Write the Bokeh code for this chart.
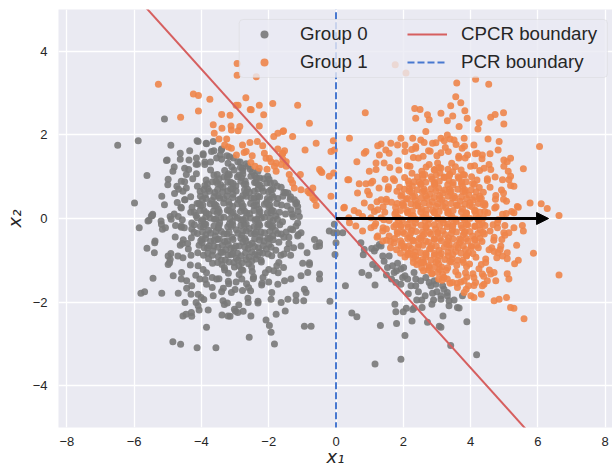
from bokeh.plotting import figure
from bokeh.models import (Range1d, FixedTicker, Legend, LegendItem, Arrow, NormalHead,
                          BoxAnnotation)
from bokeh.embed import file_html
from bokeh.resources import INLINE

# ---------------- data ----------------
x_ticks = [-8, -6, -4, -2, 0, 2, 4, 6, 8]
x_tick_labels = ["−8", "−6", "−4", "−2", "0", "2", "4", "6", "8"]
y_ticks = [-4, -2, 0, 2, 4]
y_tick_labels = ["−4", "−2", "0", "2", "4"]

cpcr_slope = -0.893      # CPCR boundary, a line through the origin
pcr_x = 0.0              # PCR boundary, vertical
arrow_end = (6.32, 0.0)  # projection direction drawn from the origin

# Group 0: dense part of the left cluster
group0_core = [
    (-3.31, -1.23), (-3.20, -1.31), (-2.88, -1.34), (-2.77, -1.24), (-2.49, -1.27),
    (-3.67, -1.07), (-3.39, -1.10), (-3.32, -1.18), (-3.04, -1.05), (-2.89, -1.13), (-2.60, -1.08), (-2.51, -1.16), (-2.22, -1.04),
    (-3.94, -0.88), (-3.79, -0.96), (-3.50, -0.91), (-3.41, -0.99), (-3.12, -0.87), (-2.96, -0.95), (-2.67, -0.98), (-2.58, -0.92),
    (-2.33, -0.88), (-2.23, -1.00), (-1.91, -0.89),
    (-4.11, -0.82), (-3.82, -0.70), (-3.66, -0.78), (-3.37, -0.81), (-3.28, -0.75), (-3.03, -0.71), (-2.93, -0.83), (-2.61, -0.72),
    (-2.50, -0.80), (-2.18, -0.83), (-2.07, -0.73), (-1.79, -0.76),
    (-4.07, -0.64), (-3.98, -0.58), (-3.73, -0.54), (-3.63, -0.66), (-3.31, -0.55), (-3.20, -0.63), (-2.88, -0.66), (-2.77, -0.56),
    (-2.49, -0.59), (-2.42, -0.67), (-2.14, -0.54), (-1.99, -0.62), (-1.70, -0.57),
    (-4.30, -0.46), (-3.98, -0.49), (-3.87, -0.39), (-3.59, -0.42), (-3.52, -0.50), (-3.24, -0.37), (-3.09, -0.45), (-2.80, -0.40),
    (-2.71, -0.48), (-2.42, -0.36), (-2.26, -0.44), (-1.97, -0.47), (-1.88, -0.41), (-1.63, -0.37),
    (-4.29, -0.25), (-4.22, -0.33), (-3.94, -0.20), (-3.79, -0.28), (-3.50, -0.23), (-3.41, -0.31), (-3.12, -0.19), (-2.96, -0.27),
    (-2.67, -0.30), (-2.58, -0.24), (-2.33, -0.20), (-2.23, -0.32), (-1.91, -0.21), (-1.80, -0.29), (-1.48, -0.32),
    (-4.29, -0.11), (-4.00, -0.06), (-3.91, -0.14), (-3.62, -0.02), (-3.46, -0.10), (-3.17, -0.13), (-3.08, -0.07), (-2.83, -0.03),
    (-2.73, -0.15), (-2.41, -0.04), (-2.30, -0.12), (-1.98, -0.15), (-1.87, -0.05), (-1.59, -0.08),
    (-4.32, 0.15), (-4.16, 0.07), (-3.87, 0.04), (-3.78, 0.10), (-3.53, 0.14), (-3.43, 0.02), (-3.11, 0.13), (-3.00, 0.05),
    (-2.68, 0.02), (-2.57, 0.12), (-2.29, 0.09), (-2.22, 0.01), (-1.94, 0.14), (-1.79, 0.06), (-1.50, 0.11),
    (-4.28, 0.27), (-4.03, 0.31), (-3.93, 0.19), (-3.61, 0.30), (-3.50, 0.22), (-3.18, 0.19), (-3.07, 0.29), (-2.79, 0.26),
    (-2.72, 0.18), (-2.44, 0.31), (-2.29, 0.23), (-2.00, 0.28), (-1.91, 0.20), (-1.62, 0.32),
    (-4.08, 0.36), (-3.97, 0.46), (-3.69, 0.43), (-3.62, 0.35), (-3.34, 0.48), (-3.19, 0.40), (-2.90, 0.45), (-2.81, 0.37),
    (-2.52, 0.49), (-2.36, 0.41), (-2.07, 0.38), (-1.98, 0.44), (-1.73, 0.48),
    (-4.32, 0.52), (-4.04, 0.65), (-3.89, 0.57), (-3.60, 0.62), (-3.51, 0.54), (-3.22, 0.66), (-3.06, 0.58), (-2.77, 0.55),
    (-2.68, 0.61), (-2.43, 0.65), (-2.33, 0.53), (-2.01, 0.64), (-1.90, 0.56), (-1.58, 0.53),
    (-4.12, 0.77), (-3.90, 0.79), (-3.81, 0.71), (-3.52, 0.83), (-3.36, 0.75), (-3.07, 0.72), (-2.98, 0.78), (-2.73, 0.82),
    (-2.63, 0.70), (-2.31, 0.81), (-2.20, 0.73), (-1.88, 0.70),
    (-3.86, 0.92), (-3.57, 0.89), (-3.48, 0.95), (-3.23, 0.99), (-3.13, 0.87), (-2.81, 0.98), (-2.70, 0.90), (-2.38, 0.87),
    (-2.27, 0.97), (-1.99, 0.94),
    (-3.73, 1.16), (-3.63, 1.04), (-3.31, 1.15), (-3.20, 1.07), (-2.88, 1.04), (-2.77, 1.14), (-2.49, 1.11), (-2.42, 1.03),
    (-3.21, 1.32), (-3.10, 1.24), (-2.78, 1.21), (-2.67, 1.31),
]

# Group 0: the most crowded middle of the left cluster
group0_center = [
    (-3.02, -1.16), (-2.81, -1.22),
    (-3.52, -1.05), (-3.29, -0.99), (-3.18, -1.04), (-2.91, -1.00), (-2.79, -1.06), (-2.50, -1.01), (-2.38, -0.97),
    (-3.81, -0.83), (-3.68, -0.88), (-3.42, -0.81), (-3.21, -0.87), (-3.07, -0.84), (-2.82, -0.89), (-2.69, -0.82), (-2.41, -0.86),
    (-2.27, -0.80), (-2.02, -0.85),
    (-3.92, -0.70), (-3.77, -0.65), (-3.51, -0.69), (-3.38, -0.64), (-3.12, -0.71), (-2.98, -0.66), (-2.71, -0.68), (-2.58, -0.63),
    (-2.31, -0.70), (-2.17, -0.65), (-1.93, -0.69),
    (-4.02, -0.53), (-3.88, -0.48), (-3.62, -0.52), (-3.47, -0.49), (-3.23, -0.54), (-3.06, -0.50), (-2.83, -0.47), (-2.68, -0.53),
    (-2.42, -0.49), (-2.28, -0.52), (-2.03, -0.48), (-1.87, -0.51),
    (-4.12, -0.36), (-3.97, -0.32), (-3.73, -0.35), (-3.57, -0.31), (-3.33, -0.37), (-3.18, -0.33), (-2.92, -0.35), (-2.77, -0.30),
    (-2.53, -0.36), (-2.37, -0.32), (-2.12, -0.34), (-1.97, -0.31), (-1.73, -0.36),
    (-4.21, -0.15), (-4.03, -0.19), (-3.87, -0.14), (-3.63, -0.18), (-3.48, -0.16), (-3.22, -0.20), (-3.07, -0.15), (-2.83, -0.17),
    (-2.67, -0.13), (-2.43, -0.19), (-2.27, -0.16), (-2.03, -0.14), (-1.88, -0.18), (-1.67, -0.15),
    (-4.13, 0.02), (-3.96, -0.03), (-3.74, 0.01), (-3.57, -0.02), (-3.33, 0.03), (-3.16, -0.01), (-2.93, 0.02), (-2.76, -0.03),
    (-2.54, 0.01), (-2.36, -0.02), (-2.13, 0.03), (-1.96, 0.00), (-1.74, -0.02),
    (-4.22, 0.15), (-4.04, 0.19), (-3.86, 0.14), (-3.64, 0.18), (-3.47, 0.16), (-3.23, 0.20), (-3.06, 0.15), (-2.84, 0.17),
    (-2.66, 0.13), (-2.44, 0.19), (-2.26, 0.16), (-2.04, 0.14), (-1.86, 0.18), (-1.68, 0.15),
    (-4.13, 0.36), (-3.96, 0.32), (-3.74, 0.35), (-3.56, 0.31), (-3.34, 0.37), (-3.17, 0.33), (-2.93, 0.35), (-2.76, 0.30),
    (-2.54, 0.36), (-2.36, 0.32), (-2.13, 0.34), (-1.96, 0.31), (-1.76, 0.36),
    (-4.03, 0.53), (-3.87, 0.48), (-3.63, 0.52), (-3.46, 0.49), (-3.24, 0.54), (-3.07, 0.50), (-2.84, 0.47), (-2.67, 0.53),
    (-2.43, 0.49), (-2.27, 0.52), (-2.04, 0.48), (-1.86, 0.51),
    (-3.93, 0.70), (-3.76, 0.65), (-3.52, 0.69), (-3.37, 0.64), (-3.13, 0.71), (-2.97, 0.66), (-2.72, 0.68), (-2.57, 0.63),
    (-2.32, 0.70), (-2.16, 0.65), (-1.94, 0.69),
    (-3.82, 0.83), (-3.67, 0.88), (-3.43, 0.81), (-3.22, 0.87), (-3.06, 0.84), (-2.83, 0.89), (-2.68, 0.82), (-2.42, 0.86),
    (-2.26, 0.80), (-2.06, 0.85),
    (-3.53, 1.05), (-3.33, 0.99), (-3.17, 1.04), (-2.93, 1.00), (-2.77, 1.06), (-2.53, 1.01), (-2.36, 0.97),
    (-3.03, 1.16), (-2.84, 1.22),
]

# Group 0: outer band of the left cluster
group0_ring = [
    (-1.28, 0.04), (-1.34, 0.21), (-1.36, 0.46), (-1.50, 0.62),
    (-3.24, 1.50), (-3.44, 1.52), (-3.73, 1.35), (-3.90, 1.29), (-4.15, 1.07), (-4.26, 0.95), (-4.45, 0.73), (-4.49, 0.45),
    (-4.61, 0.27), (-4.57, -0.03), (-4.60, -0.21), (-4.54, -0.51), (-4.39, -0.73), (-4.31, -0.88), (-4.10, -1.13), (-3.95, -1.22),
    (-3.68, -1.41), (-3.48, -1.44), (-3.19, -1.56), (-2.97, -1.52), (-2.66, -1.56), (-2.46, -1.44), (-2.17, -1.41), (-2.00, -1.22),
    (-1.76, -1.13), (-1.64, -0.88), (-1.45, -0.73), (-1.40, -0.45), (-1.29, -0.27),
    (-1.13, 0.17), (-1.17, 0.38), (-3.40, 1.66), (-3.63, 1.62), (-3.95, 1.52), (-4.12, 1.30), (-4.38, 1.17), (-4.50, 0.88),
    (-4.68, 0.70), (-4.72, 0.38), (-4.81, 0.11), (-4.77, -0.17), (-4.78, -0.44), (-4.63, -0.64), (-4.55, -0.94), (-4.33, -1.11),
    (-4.17, -1.36), (-3.89, -1.46), (-3.68, -1.65), (-3.35, -1.67), (-3.11, -1.77), (-2.78, -1.72), (-2.54, -1.73), (-2.21, -1.59),
    (-2.00, -1.52), (-1.72, -1.30), (-1.56, -1.17), (-1.35, -0.88), (-1.26, -0.70), (-1.12, -0.38), (-1.14, -0.11),
    (-2.15, 0.95), (-1.95, 0.85), (-1.75, 0.78), (-1.55, 0.62), (-1.35, 0.52), (-1.20, 0.35), (-2.55, 1.18), (-2.85, 1.35),
    (-3.05, 1.45),
]

# Group 0: sparser points around the left cluster
group0_halo = [
    (-6.49, 1.75), (-5.88, 1.86), (-5.10, 2.38), (-5.62, 1.03), (-5.99, 0.37), (-5.02, 1.40), (-4.91, 1.75), (-4.13, 1.86),
    (-3.85, 1.79), (-3.65, 1.84), (-4.99, 0.94), (-5.00, 0.81), (-4.81, 1.23), (-4.63, 1.42), (-4.37, 1.40), (-4.16, 1.30),
    (-4.73, 0.77), (-4.80, 0.60), (-5.18, 0.53), (-5.10, 0.33), (-5.45, 0.10),
    (-5.85, -0.22), (-5.56, -0.04), (-5.46, 0.07), (-5.38, -0.54), (-5.62, -0.71), (-5.40, -0.82), (-5.44, -1.43), (-5.80, -1.79),
    (-5.69, -1.75), (-5.18, -1.79), (-4.69, -1.79), (-4.85, -2.95), (-4.62, -3.01), (-4.13, -3.09), (-3.57, -3.09), (-3.85, -2.60),
    (-2.58, -2.84),
    (-4.49, -2.01), (-4.16, -2.01), (-4.31, -1.81), (-4.44, -1.67), (-4.10, -1.81), (-3.93, -1.94), (-3.65, -1.85), (-4.46, -2.29),
    (-4.29, -2.34), (-4.07, -2.19), (-3.80, -2.19), (-3.39, -2.31), (-3.15, -2.34), (-2.99, -2.22), (-2.76, -2.22), (-2.53, -2.33),
    (-2.89, -2.07), (-3.32, -2.06), (-2.61, -2.01),
    (-4.84, -1.37), (-4.59, -1.29), (-4.99, -1.10), (-4.93, -0.98), (-4.57, -0.60), (-4.41, -0.60), (-4.91, -0.84), (-4.44, -1.49),
    (-4.29, -1.61), (-3.85, -1.57), (-5.16, -0.26), (-5.07, -0.22), (-5.20, -0.06), (-4.51, -0.22), (-4.93, 0.05), (-4.69, 0.05),
    (-4.63, 1.56), (-5.04, 1.39), (-4.85, 1.13), (-4.60, 0.89), (-5.49, 0.06), (-5.59, -0.06), (-5.19, -0.14), (-4.90, -0.02),
    (-4.60, -0.18), (-5.39, -0.58), (-4.99, -0.90), (-4.95, -1.06), (-4.70, -0.90), (-4.60, -1.45), (-4.01, -1.89), (-4.10, -2.09),
    (-4.30, -2.25), (-4.55, -2.33), (-3.36, -1.97), (-3.23, -2.02), (-3.02, -2.17), (-3.21, -2.33), (-2.92, -2.25), (-2.62, -1.91),
    (-2.32, -2.02), (-1.63, -2.01), (-1.19, -1.97), (-0.94, -1.69), (-1.43, -1.93), (-1.73, -1.57), (-1.53, -1.49), (-1.34, -1.45),
    (-1.04, -1.37), (-0.84, -1.29), (-0.79, -1.06), (-0.49, -0.58), (-0.64, -0.50), (-1.04, -0.66), (-0.86, -0.82), (-1.09, 0.05),
    (-1.19, -0.18), (-1.04, -0.34), (-1.14, -0.42),
    (-4.10, 1.84), (-3.86, 1.80), (-3.41, 1.64), (-3.17, 1.48), (-2.92, 1.36), (-2.62, 1.25), (-2.32, 1.13), (-2.03, 1.01),
    (-1.83, 0.85), (-1.63, 0.75), (-1.43, 0.61), (-1.24, 0.45), (-1.14, 0.29),
    (-4.35, 1.62), (-3.95, 1.55), (-3.70, 1.60), (-3.55, 1.45), (-3.90, 1.35), (-4.15, 1.45), (-3.40, 1.42), (-4.50, 1.20),
    (-4.45, 1.05), (-4.55, 0.65), (-4.50, 0.45), (-4.60, 0.25),
    (-3.55, -1.45), (-3.20, -1.50), (-2.80, -1.45), (-2.45, -1.40), (-2.10, -1.30), (-3.85, -1.30), (-3.00, -1.70), (-2.60, -1.65),
    (-2.20, -1.55), (-1.85, -1.25), (-3.40, -1.75), (-4.05, -1.45), (-1.70, -1.05), (-1.55, -0.85), (-1.40, -0.60), (-1.35, -0.25),
    (-1.30, 0.10), (-1.45, 0.30), (-1.55, -0.45),
]

# Group 0: points between the clusters
group0_mid = [
    (-0.18, -1.98), (0.28, -1.61), (0.47, -2.26), (0.62, -2.35), (-0.05, -0.14), (-0.07, -0.34), (-0.03, -0.86), (-0.20, -0.30),
    (-0.49, -0.66), (-0.59, -0.67), (-0.49, -1.33), (-0.49, -1.45), (-0.79, -1.10), (-0.99, -1.07), (-0.89, -1.77), (-0.96, -1.97),
    (-1.19, -1.83), (-1.51, -2.21), (-1.78, -2.29), (-1.91, -1.77), (-1.93, -1.93), (-2.08, -2.43), (-1.98, -2.56), (-1.93, -2.72),
    (-1.83, -3.00), (-0.94, -2.58), (-0.74, -2.58), (-2.32, -1.98),
    (0.03, -0.34), (0.00, -0.58), (0.20, -0.34), (0.81, -0.87), (0.74, -0.58), (0.84, -0.74),
]

# Group 0: points below the boundary inside the right cluster
group0_right = [
    (1.16, -3.48), (1.93, -3.37), (2.05, -2.80), (1.32, -2.56), (1.80, -2.51), (1.78, -2.23), (1.75, -2.05), (2.00, -2.23),
    (2.09, -2.15), (2.26, -2.45), (2.32, -2.14), (2.56, -2.13), (2.72, -2.48), (3.07, -2.58), (3.18, -2.33), (2.90, -1.95),
    (2.87, -1.79), (3.12, -1.85), (3.41, -3.04), (4.18, -3.26),
    (1.16, -1.59), (0.77, -1.29), (0.97, -1.36), (1.09, -1.10), (1.21, -1.19), (1.06, -0.72), (1.19, -0.70), (1.39, -0.90),
    (1.43, -1.02), (1.53, -1.17), (1.68, -1.13), (1.80, -1.25), (2.01, -1.17), (2.05, -1.37), (2.23, -1.61), (2.37, -1.61),
    (2.52, -1.49), (2.67, -1.41), (2.77, -1.53), (2.97, -1.57), (3.17, -1.61), (1.29, -0.62),
    (3.31, -1.85), (3.51, -1.95), (3.66, -2.14), (3.76, -1.85), (3.36, -2.09), (3.89, -2.47),
    (1.34, -0.66), (1.58, -0.90), (1.83, -1.07), (1.93, -1.21), (1.73, -1.29), (1.98, -1.41), (2.13, -1.45), (2.32, -1.29),
    (2.37, -1.45), (2.82, -1.61), (2.92, -1.49), (3.21, -1.69), (3.31, -1.77), (1.93, -1.57), (1.78, -1.53), (1.14, -0.78),
    (2.28, -2.18), (3.61, -2.13), (3.12, -2.60), (3.36, -1.97), (3.12, -1.93),
    (2.45, -1.75), (2.65, -1.85), (2.15, -1.80), (2.55, -1.95), (1.65, -1.45), (1.50, -1.35), (2.85, -2.05), (3.00, -1.75),
    (2.40, -1.95),
]

# Group 1: points above the boundary on the left and between the clusters
group1_left = [
    (-5.28, 3.21), (-4.24, 2.98), (-4.09, 2.94), (-3.75, 2.85), (-4.09, 2.57), (-4.62, 2.42), (-3.40, 2.49), (-3.15, 2.47),
    (-2.91, 2.71), (-2.68, 2.89), (-2.55, 2.61), (-3.65, 2.24), (-3.39, 2.16), (-3.12, 2.21), (-3.11, 2.12), (-2.86, 2.20),
    (-2.91, 2.10), (-3.62, 2.04), (-3.48, 1.90), (-3.25, 1.90), (-3.20, 1.71), (-3.11, 1.68), (-2.78, 1.76), (-2.56, 1.82),
    (-2.34, 1.84), (-2.96, 1.52), (-2.73, 1.58), (-2.49, 1.50), (-2.53, 1.34), (-2.41, 1.25),
    (-2.28, 2.21), (-3.31, 1.76), (-2.67, 1.60), (-2.28, 1.20), (-2.13, 1.56), (-2.08, 1.44), (-1.93, 1.36), (-1.83, 1.25),
    (-1.78, 1.13), (-1.63, 1.29), (-1.58, 1.56), (-1.48, 1.36), (-1.39, 1.05), (-1.34, 0.93), (-1.24, 0.73), (-1.04, 0.69),
    (-1.06, 1.05), (-0.79, 0.61), (-0.64, 0.45), (-0.59, 0.31), (-0.15, 0.53), (0.23, 0.25), (0.40, 1.92), (0.35, 0.93),
    (-0.15, 1.60), (-0.05, 1.64), (-0.45, 1.13), (-0.49, 1.17), (-0.79, 2.28), (-0.59, 1.80), (-0.92, 1.64), (-1.29, 1.96),
    (-1.58, 2.08), (-1.73, 2.04), (-1.85, 1.96), (-2.15, 2.48), (-1.88, 2.75), (-1.14, 2.71), (-2.28, 2.71), (-2.52, 2.60),
    (-2.97, 2.71),
    (-2.94, 3.71), (-2.94, 3.43), (-2.37, 3.39), (1.76, 3.68), (2.08, 3.48), (3.59, 3.24), (4.15, 3.33), (4.54, 3.21),
    (0.87, 2.53), (-0.08, 1.86), (-0.42, 1.10), (-0.69, 0.73), (-0.74, 0.61), (0.38, 0.93), (0.25, 0.27), (0.54, 0.19),
    (0.67, 0.14), (0.62, 1.36), (0.84, 1.56), (0.89, 1.60), (0.69, 0.83), (0.89, 0.83), (1.04, 0.85), (0.94, 0.65),
    (-1.56, 2.10), (-2.18, 1.74), (-1.73, 1.66), (-1.53, 1.62), (-1.60, 1.54), (-1.98, 1.44), (-1.78, 1.33), (-1.58, 1.42),
    (-2.05, 1.18), (-1.48, 1.25), (-1.29, 0.85), (-0.84, 0.65), (-0.69, 0.49), (-0.20, 1.01), (-0.07, 1.09),
    (1.09, 0.89), (0.38, 0.02), (1.04, 0.27), (1.34, 0.45), (1.19, 1.17), (1.34, 1.78),
    (0.40, -0.10), (0.59, -0.18), (0.79, -0.30), (1.04, -0.22), (1.24, -0.42), (1.39, -0.54),
]

# Group 1: dense part of the right cluster
group1_core = [
    (2.74, -1.23), (2.85, -1.31), (3.17, -1.34), (3.28, -1.24), (3.56, -1.27), (3.63, -1.35),
    (2.40, -1.10), (2.61, -1.05), (2.76, -1.13), (3.05, -1.08), (3.14, -1.16), (3.43, -1.04), (3.59, -1.12), (3.88, -1.15),
    (3.97, -1.09),
    (2.13, -0.87), (2.29, -0.95), (2.58, -0.98), (2.67, -0.92), (2.92, -0.88), (3.02, -1.00), (3.34, -0.89), (3.45, -0.97),
    (3.77, -1.00), (3.88, -0.90), (4.16, -0.93),
    (1.92, -0.83), (2.24, -0.72), (2.35, -0.80), (2.67, -0.83), (2.78, -0.73), (3.06, -0.76), (3.13, -0.84), (3.41, -0.71),
    (3.56, -0.79), (3.85, -0.74), (3.94, -0.82), (4.23, -0.70),
    (1.96, -0.59), (2.03, -0.67), (2.31, -0.54), (2.46, -0.62), (2.75, -0.57), (2.84, -0.65), (3.13, -0.53), (3.29, -0.61),
    (3.58, -0.64), (3.67, -0.58), (3.92, -0.54), (4.02, -0.66), (4.34, -0.55),
    (1.74, -0.48), (2.03, -0.36), (2.19, -0.44), (2.48, -0.47), (2.57, -0.41), (2.82, -0.37), (2.92, -0.49), (3.24, -0.38),
    (3.35, -0.46), (3.67, -0.49), (3.78, -0.39), (4.06, -0.42), (4.13, -0.50), (4.41, -0.37),
    (1.72, -0.20), (1.82, -0.32), (2.14, -0.21), (2.25, -0.29), (2.57, -0.32), (2.68, -0.22), (2.96, -0.25), (3.03, -0.33),
    (3.31, -0.20), (3.46, -0.28), (3.75, -0.23), (3.84, -0.31), (4.13, -0.19), (4.29, -0.27), (4.58, -0.30),
    (1.58, -0.05), (1.86, -0.08), (1.93, -0.16), (2.21, -0.03), (2.36, -0.11), (2.65, -0.06), (2.74, -0.14), (3.03, -0.02),
    (3.19, -0.10), (3.48, -0.13), (3.57, -0.07), (3.82, -0.03), (3.92, -0.15), (4.24, -0.04), (4.35, -0.12), (4.67, -0.15),
    (1.75, 0.11), (1.84, 0.03), (2.13, 0.15), (2.29, 0.07), (2.58, 0.04), (2.67, 0.10), (2.92, 0.14), (3.02, 0.02),
    (3.34, 0.13), (3.45, 0.05), (3.77, 0.02), (3.88, 0.12), (4.16, 0.09), (4.23, 0.01), (4.51, 0.14),
    (1.77, 0.27), (2.02, 0.31), (2.12, 0.19), (2.44, 0.30), (2.55, 0.22), (2.87, 0.19), (2.98, 0.29), (3.26, 0.26),
    (3.33, 0.18), (3.61, 0.31), (3.76, 0.23), (4.05, 0.28), (4.14, 0.20), (4.43, 0.32),
    (1.65, 0.39), (1.97, 0.36), (2.08, 0.46), (2.36, 0.43), (2.43, 0.35), (2.71, 0.48), (2.86, 0.40), (3.15, 0.45),
    (3.24, 0.37), (3.53, 0.49), (3.69, 0.41), (3.98, 0.38), (4.07, 0.44), (4.32, 0.48), (4.42, 0.36),
    (1.81, 0.65), (1.96, 0.57), (2.25, 0.62), (2.34, 0.54), (2.63, 0.66), (2.79, 0.58), (3.08, 0.55), (3.17, 0.61),
    (3.42, 0.65), (3.52, 0.53), (3.84, 0.64), (3.95, 0.56), (4.27, 0.53), (4.38, 0.63),
    (1.89, 0.75), (2.18, 0.72), (2.27, 0.78), (2.52, 0.82), (2.62, 0.70), (2.94, 0.81), (3.05, 0.73), (3.37, 0.70),
    (3.48, 0.80), (3.76, 0.77), (3.83, 0.69), (4.11, 0.82), (4.26, 0.74),
    (2.04, 0.98), (2.15, 0.90), (2.47, 0.87), (2.58, 0.97), (2.86, 0.94), (2.93, 0.86), (3.21, 0.99), (3.36, 0.91),
    (3.65, 0.96), (3.74, 0.88), (4.03, 1.00), (4.19, 0.92),
    (2.26, 1.08), (2.55, 1.13), (2.64, 1.05), (2.93, 1.17), (3.09, 1.09), (3.38, 1.06), (3.47, 1.12), (3.72, 1.16),
    (3.82, 1.04),
    (2.68, 1.23), (2.77, 1.29), (3.02, 1.33), (3.12, 1.21), (3.44, 1.32), (3.55, 1.24),
]

# Group 1: the most crowded middle of the right cluster
group1_center = [
    (2.93, -1.16), (3.08, -1.22), (3.32, -1.18),
    (2.43, -0.99), (2.58, -1.05), (2.82, -1.00), (2.97, -1.04), (3.23, -0.98), (3.38, -1.03), (3.62, -1.00), (3.79, -1.05),
    (2.17, -0.83), (2.31, -0.88), (2.52, -0.82), (2.68, -0.87), (2.93, -0.84), (3.08, -0.89), (3.33, -0.81), (3.47, -0.86),
    (3.72, -0.83), (3.88, -0.88), (4.07, -0.84),
    (2.02, -0.70), (2.17, -0.65), (2.43, -0.69), (2.58, -0.64), (2.82, -0.71), (2.98, -0.66), (3.22, -0.68), (3.37, -0.63),
    (3.63, -0.70), (3.78, -0.65), (4.03, -0.69), (4.18, -0.64),
    (1.92, -0.53), (2.13, -0.48), (2.28, -0.52), (2.52, -0.49), (2.67, -0.54), (2.93, -0.50), (3.08, -0.47), (3.32, -0.53),
    (3.48, -0.49), (3.72, -0.52), (3.87, -0.48), (4.12, -0.51), (4.28, -0.47),
    (1.83, -0.36), (1.98, -0.32), (2.22, -0.35), (2.38, -0.31), (2.63, -0.37), (2.78, -0.33), (3.02, -0.35), (3.17, -0.30),
    (3.43, -0.36), (3.58, -0.32), (3.82, -0.34), (3.98, -0.31), (4.22, -0.36), (4.37, -0.33),
    (1.78, -0.15), (1.93, -0.19), (2.12, -0.14), (2.28, -0.18), (2.53, -0.16), (2.67, -0.20), (2.92, -0.15), (3.08, -0.17),
    (3.33, -0.13), (3.47, -0.19), (3.72, -0.16), (3.88, -0.14), (4.13, -0.18), (4.27, -0.15), (4.43, -0.17),
    (1.82, 0.02), (1.97, -0.03), (2.23, 0.01), (2.38, -0.02), (2.62, 0.03), (2.78, -0.01), (3.03, 0.02), (3.18, -0.03),
    (3.42, 0.01), (3.57, -0.02), (3.83, 0.03), (3.98, 0.00), (4.22, -0.02), (4.38, 0.02),
    (1.78, 0.15), (1.92, 0.19), (2.13, 0.14), (2.27, 0.18), (2.52, 0.16), (2.68, 0.20), (2.93, 0.15), (3.07, 0.17),
    (3.32, 0.13), (3.48, 0.19), (3.73, 0.16), (3.87, 0.14), (4.12, 0.18), (4.28, 0.15), (4.42, 0.17),
    (1.82, 0.36), (1.98, 0.32), (2.23, 0.35), (2.37, 0.31), (2.62, 0.37), (2.78, 0.33), (3.03, 0.35), (3.17, 0.30),
    (3.42, 0.36), (3.58, 0.32), (3.83, 0.34), (3.97, 0.31), (4.23, 0.36), (4.38, 0.33),
    (1.93, 0.53), (2.12, 0.48), (2.28, 0.52), (2.53, 0.49), (2.67, 0.54), (2.92, 0.50), (3.08, 0.47), (3.33, 0.53),
    (3.47, 0.49), (3.73, 0.52), (3.88, 0.48), (4.13, 0.51), (4.27, 0.47),
    (2.03, 0.70), (2.18, 0.65), (2.42, 0.69), (2.57, 0.64), (2.83, 0.71), (2.97, 0.66), (3.23, 0.68), (3.38, 0.63),
    (3.62, 0.70), (3.77, 0.65), (4.02, 0.69), (4.17, 0.64),
    (2.17, 0.83), (2.32, 0.88), (2.53, 0.82), (2.67, 0.87), (2.92, 0.84), (3.07, 0.89), (3.32, 0.81), (3.48, 0.86),
    (3.73, 0.83), (3.87, 0.88), (4.06, 0.84),
    (2.42, 0.99), (2.57, 1.05), (2.83, 1.00), (2.98, 1.04), (3.22, 0.98), (3.37, 1.03), (3.63, 1.00), (3.78, 1.05),
    (2.92, 1.16), (3.07, 1.22), (3.33, 1.18),
]

# Group 1: outer band of the right cluster
group1_ring = [
    (4.82, -0.03), (4.76, 0.28), (4.74, 0.46), (4.58, 0.75), (4.50, 0.91), (4.27, 1.15), (4.12, 1.26), (3.84, 1.45),
    (3.65, 1.49), (3.34, 1.60), (3.12, 1.57), (2.80, 1.61), (2.59, 1.49), (2.30, 1.46), (2.12, 1.26), (1.87, 1.16),
    (1.74, 0.91), (1.56, 0.76), (1.50, 0.46), (1.40, 0.28), (1.42, -0.03), (1.40, -0.22), (1.50, -0.52), (1.62, -0.70),
    (3.39, -1.55), (3.60, -1.55), (3.89, -1.40), (4.07, -1.32), (4.32, -1.10), (4.45, -0.97), (4.63, -0.70), (4.69, -0.52),
    (4.80, -0.22),
    (5.06, 0.12), (4.98, 0.46), (4.92, 0.68), (4.73, 0.99), (4.60, 1.17), (4.34, 1.43), (4.14, 1.55), (3.82, 1.73),
    (3.57, 1.77), (3.22, 1.86), (2.97, 1.81), (2.62, 1.82), (2.37, 1.68), (2.05, 1.60), (1.85, 1.38), (1.60, 1.22),
    (1.46, 0.94), (1.28, 0.73), (1.22, 0.40), (1.14, 0.17), (1.18, -0.12), (1.22, -0.45),
    (3.87, -1.69), (4.10, -1.60), (4.39, -1.38), (4.56, -1.23), (4.78, -0.94), (4.88, -0.74), (5.02, -0.40), (5.02, -0.17),
    (1.80, -0.75), (2.05, -0.92), (2.30, -1.05), (2.55, -1.18), (2.85, -1.32), (3.15, -1.48),
]

# Group 1: sparser points around the right cluster
group1_halo = [
    (1.24, 1.74), (1.29, 1.52), (1.48, 1.64), (1.63, 1.80), (1.83, 1.76), (2.05, 1.76), (2.28, 1.92), (2.52, 1.88),
    (2.37, 2.40), (2.34, 2.63), (2.50, 2.61), (2.77, 2.36), (2.67, 2.08), (3.12, 2.52), (3.39, 1.90),
    (3.56, 2.91), (3.41, 2.70), (3.71, 2.77), (3.83, 2.58), (3.31, 2.34), (3.47, 2.45), (3.66, 2.20), (3.90, 2.40),
    (4.60, 2.42), (4.73, 2.49), (4.98, 2.53), (4.99, 2.26), (4.25, 2.29), (4.22, 2.14), (6.05, 1.72), (4.52, 1.90),
    (4.85, 1.84), (4.82, 1.64), (4.58, 1.55), (5.19, 1.44), (4.99, 1.40), (5.57, 1.19), (4.99, 1.25), (5.12, 1.13),
    (4.55, 1.29), (5.19, 1.01), (5.19, 0.79), (4.95, 0.93), (4.98, 0.61), (5.42, 0.27), (5.77, 0.37), (6.10, 0.35),
    (6.28, 0.24), (6.63, 0.07), (5.07, 0.41), (5.22, 0.17),
    (6.63, -1.35), (5.87, -0.83), (5.59, -2.40), (5.19, -2.13), (5.29, -2.15), (4.70, -1.97), (4.85, -1.93), (5.07, -1.89),
    (5.37, -0.64), (5.42, -1.00), (5.31, -1.08), (5.09, -0.96), (5.14, -1.45), (5.09, -1.32), (4.75, -1.49), (4.32, -1.81),
    (4.10, -1.89), (5.54, -0.17), (5.57, -0.30), (5.14, -0.34), (4.93, -0.50), (4.70, -0.79), (4.82, -0.82), (4.60, -1.33),
    (4.40, -1.57), (4.15, -1.53),
    (2.72, 2.48), (3.94, -1.61), (3.61, -1.65), (3.81, -1.77), (4.01, -1.85), (3.46, -1.53), (3.31, -1.45), (3.71, -1.52),
    (5.09, 1.36), (5.14, 0.93), (5.29, 0.77), (5.39, 0.29), (5.29, 0.14), (4.95, 0.10), (4.99, -0.34), (5.29, -0.22),
    (4.90, -0.66), (5.09, -0.82), (4.95, -0.90), (4.70, -1.29),
    (1.93, 1.92), (2.37, 1.72), (2.87, 1.80), (3.12, 1.92), (3.31, 2.00), (3.51, 1.88), (3.81, 1.92), (4.10, 1.76),
    (4.35, 1.52), (4.20, 1.56), (3.91, 1.52), (1.58, 1.56), (1.19, 1.33), (1.43, 1.33), (0.99, 1.13), (0.64, 0.61),
    (0.99, 0.57), (0.84, 0.37), (1.24, 0.21), (1.04, 0.02), (0.79, 0.05), (1.34, 0.02), (1.14, -0.18), (1.39, -0.30),
    (1.58, -0.42), (1.73, -0.58), (1.93, -0.66), (2.13, -0.82), (2.37, -0.90), (2.52, -1.06), (2.77, -1.17), (3.02, -1.29),
    (3.21, -1.41), (3.81, -1.49), (4.10, -1.41), (4.35, -1.33), (4.50, -1.49), (4.35, -1.61),
    (2.20, 1.25), (4.00, 1.25), (2.45, 1.45), (3.00, 1.50), (3.65, 1.45), (4.40, 1.20), (4.50, 0.95), (1.70, 0.95),
    (1.55, 0.70), (1.50, 0.40), (1.45, 0.15), (1.50, -0.25), (1.62, -0.55), (4.75, 0.55), (4.72, 0.25), (4.80, -0.10),
    (4.70, -0.45), (4.55, -0.75), (4.45, -1.05), (4.25, -1.20), (3.85, -1.30), (3.05, -1.45), (2.60, -1.25), (2.25, 1.65),
    (2.75, 1.62), (3.25, 1.70), (3.75, 1.68),
]

# ---------------- figure ----------------
GRAY = "#797979"
ORANGE = "#ee854a"
RED = "#d65f5f"
BLUE = "#4878d0"
INK = "#262626"

p = figure(width=612, height=471, output_backend="svg", toolbar_location=None,
           x_range=Range1d(-8.25, 8.22), y_range=Range1d(-5, 5),
           min_border_left=57, min_border_right=0, min_border_top=9, min_border_bottom=44)
p.background_fill_color = "#EAEAF2"
p.border_fill_color = "white"
p.outline_line_color = None
p.grid.grid_line_color = "white"
p.grid.grid_line_width = 1.3

p.xaxis.ticker = FixedTicker(ticks=x_ticks)
p.yaxis.ticker = FixedTicker(ticks=y_ticks)
p.xaxis.major_label_overrides = {t: s for t, s in zip(x_ticks, x_tick_labels)}
p.yaxis.major_label_overrides = {t: s for t, s in zip(y_ticks, y_tick_labels)}
for ax in (p.xaxis[0], p.yaxis[0]):
    ax.axis_line_color = None
    ax.major_tick_line_color = None
    ax.minor_tick_line_color = None
    ax.major_tick_out = 0
    ax.major_tick_in = 0
    ax.minor_tick_out = 0
    ax.major_label_text_font = "Liberation Sans"
    ax.major_label_text_font_size = "13px"
    ax.major_label_text_color = INK
    ax.axis_label_text_font = "DejaVu Sans"
    ax.axis_label_text_font_style = "italic"
    ax.axis_label_text_font_size = "18px"
    ax.axis_label_text_color = INK
p.xaxis.axis_label = "x₁"
p.yaxis.axis_label = "x₂"
p.xaxis.major_label_standoff = 9
p.yaxis.major_label_standoff = 11
p.xaxis.axis_label_standoff = -3
p.yaxis.axis_label_standoff = 5

g0 = group0_core + group0_center + group0_ring + group0_halo + group0_mid + group0_right
g1 = group1_left + group1_core + group1_center + group1_ring + group1_halo

r0 = p.scatter(x=[q[0] for q in g0], y=[q[1] for q in g0], size=7,
               fill_color=GRAY, fill_alpha=0.9, line_color=None)
r1 = p.scatter(x=[q[0] for q in g1], y=[q[1] for q in g1], size=7,
               fill_color=ORANGE, fill_alpha=0.9, line_color=None)

span_x = [-6.5, 6.5]
r_cpcr = p.line(span_x, [cpcr_slope * v for v in span_x], line_color=RED, line_width=2)
r_pcr = p.line([pcr_x, pcr_x], [-6, 6], line_color=BLUE, line_width=2, line_dash="7 3")

p.add_layout(Arrow(end=NormalHead(size=12, fill_color="black", line_color="black", line_width=1),
                   x_start=0, y_start=0, x_end=arrow_end[0], y_end=arrow_end[1],
                   line_width=3, line_color="black"))

# legend panel: one shared box holding two columns of entries
legend_box = BoxAnnotation(left=-2.879, right=8.072, bottom=3.373, top=4.761,
                           fill_color="#EAEAF2", fill_alpha=0.8,
                           line_color="#cccccc", line_width=1, border_radius=4)
p.add_layout(legend_box)

common = dict(padding=0, margin=0, spacing=6, glyph_width=40, glyph_height=20, label_height=20,
              label_text_font="Liberation Sans", label_text_font_size="18.7px",
              label_text_color=INK, background_fill_alpha=0, border_line_alpha=0)
leg_a = Legend(items=[LegendItem(label="Group 0", renderers=[r0]),
                      LegendItem(label="Group 1", renderers=[r1])],
               location=(186, 354), label_standoff=16, **common)
leg_b = Legend(items=[LegendItem(label="CPCR boundary", renderers=[r_cpcr]),
                      LegendItem(label="PCR boundary", renderers=[r_pcr])],
               location=(349, 354), label_standoff=14, **common)
p.add_layout(leg_a)
p.add_layout(leg_b)

open("out.html", "w").write(file_html(p, INLINE))
